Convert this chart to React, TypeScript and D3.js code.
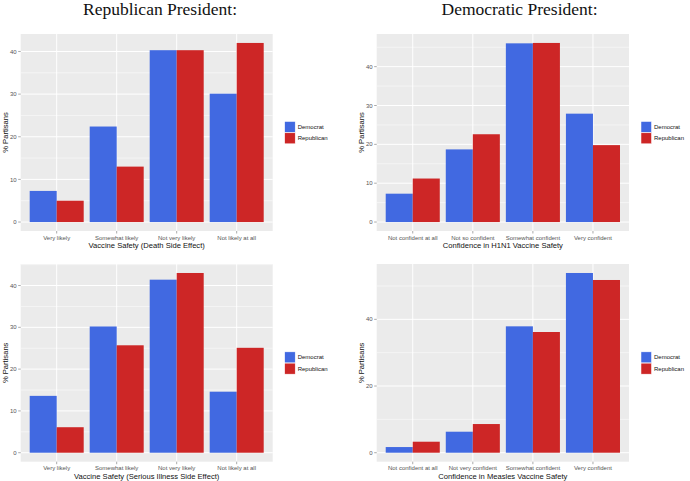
import React from "react";
import * as d3 from "d3";

const parties = ["Democrat", "Republican"];
const partyColors = ["#4169E1", "#CD2626"];

const deathCats = ["Very likely", "Somewhat likely", "Not very likely", "Not likely at all"];
const deathDem = [7.3, 22.4, 40.3, 30.1];
const deathRep = [5.0, 13.0, 40.3, 42.0];

const h1n1Cats = ["Not confident at all", "Not so confident", "Somewhat confident", "Very confident"];
const h1n1Dem = [7.3, 18.7, 46.0, 27.9];
const h1n1Rep = [11.2, 22.6, 46.1, 19.8];

const illnessCats = ["Very likely", "Somewhat likely", "Not very likely", "Not likely at all"];
const illnessDem = [13.6, 30.2, 41.4, 14.6];
const illnessRep = [6.1, 25.7, 43.0, 25.1];

const measlesCats = ["Not confident at all", "Not very confident", "Somewhat confident", "Very confident"];
const measlesDem = [1.7, 6.3, 37.9, 53.9];
const measlesRep = [3.3, 8.6, 36.2, 51.8];

const titles = ["Republican President:", "Democratic President:"];
const yTitle = "% Partisans";

type PanelProps = {
  x0: number; x1: number; y0: number; y1: number;
  cats: string[]; dem: number[]; rep: number[];
  xTitle: string; step: number;
};

function Panel({ x0, x1, y0, y1, cats, dem, rep, xTitle, step }: PanelProps) {
  const max = d3.max([...dem, ...rep]) as number;
  const y = d3.scaleLinear().domain([-0.05 * max, 1.05 * max]).range([y1, y0]);
  const x = d3.scaleLinear().domain([0.4, cats.length + 0.6]).range([x0, x1]);
  const major = d3.range(0, 1.05 * max + 1e-9, step);
  const minor = d3.range(step / 2, 1.05 * max, step);
  const bw = x(1.45) - x(1);
  const series = [dem, rep];
  const lx = x1 + 12;
  const ly = (y0 + y1) / 2 - 11;
  return (
    <g>
      <rect x={x0} y={y0} width={x1 - x0} height={y1 - y0} fill="#EBEBEB" />
      {minor.map((v) => (
        <line key={"mi" + v} x1={x0} x2={x1} y1={y(v)} y2={y(v)} stroke="#fff" strokeWidth={0.5} />
      ))}
      {major.map((v) => (
        <line key={"ma" + v} x1={x0} x2={x1} y1={y(v)} y2={y(v)} stroke="#fff" strokeWidth={1} />
      ))}
      {cats.map((c, i) => (
        <line key={"vx" + i} x1={x(i + 1)} x2={x(i + 1)} y1={y0} y2={y1} stroke="#fff" strokeWidth={1} />
      ))}
      {series.map((s, si) =>
        s.map((v, i) => (
          <rect
            key={si + "-" + i}
            x={x(i + 1) - bw + si * bw}
            y={y(v)}
            width={bw}
            height={y(0) - y(v)}
            fill={partyColors[si]}
          />
        ))
      )}
      {major.map((v) => (
        <g key={"yt" + v}>
          <line x1={x0 - 2.5} x2={x0} y1={y(v)} y2={y(v)} stroke="#555" strokeWidth={0.5} />
          <text x={x0 - 4} y={y(v)} dy="0.35em" textAnchor="end" fontSize={6} fill="#555">{v}</text>
        </g>
      ))}
      {cats.map((c, i) => (
        <g key={"xt" + i}>
          <line x1={x(i + 1)} x2={x(i + 1)} y1={y1} y2={y1 + 2.5} stroke="#555" strokeWidth={0.5} />
          <text x={x(i + 1)} y={y1 + 8.5} textAnchor="middle" fontSize={6} fill="#555">{c}</text>
        </g>
      ))}
      <text x={(x0 + x1) / 2} y={y1 + 17} textAnchor="middle" fontSize={7.6} fill="#111">{xTitle}</text>
      <text
        transform={`translate(${x0 - 13},${(y0 + y1) / 2}) rotate(-90)`}
        textAnchor="middle"
        fontSize={7.6}
        fill="#111"
      >
        {yTitle}
      </text>
      {parties.map((p, i) => (
        <g key={p}>
          <rect x={lx} y={ly + i * 11.3} width={10.5} height={11} fill={partyColors[i]} stroke="#fff" strokeWidth={0.5} />
          <text x={lx + 13} y={ly + i * 11.3 + 5.5} dy="0.35em" fontSize={6} fill="#111">{p}</text>
        </g>
      ))}
    </g>
  );
}

export default function App() {
  return (
    <svg width={690} height={481} style={{ position: "absolute", left: 0, top: 0, background: "#fff" }}
      fontFamily="'Liberation Sans', Arial, sans-serif">
      <rect x={0} y={0} width={690} height={481} fill="#fff" />
      <text x={160} y={15} textAnchor="middle" fontSize={17.5} fontFamily="'Liberation Serif', 'Times New Roman', serif" fill="#111">{titles[0]}</text>
      <text x={519.5} y={15} textAnchor="middle" fontSize={17.5} fontFamily="'Liberation Serif', 'Times New Roman', serif" fill="#111">{titles[1]}</text>
      <Panel x0={20.7} x1={272.7} y0={34} y1={231} cats={deathCats} dem={deathDem} rep={deathRep}
        xTitle="Vaccine Safety (Death Side Effect)" step={10} />
      <Panel x0={376.7} x1={629} y0={34} y1={231} cats={h1n1Cats} dem={h1n1Dem} rep={h1n1Rep}
        xTitle="Confidence in H1N1 Vaccine Safety" step={10} />
      <Panel x0={20.7} x1={272.7} y0={264} y1={461.7} cats={illnessCats} dem={illnessDem} rep={illnessRep}
        xTitle="Vaccine Safety (Serious Illness Side Effect)" step={10} />
      <Panel x0={376.7} x1={629} y0={264} y1={461.7} cats={measlesCats} dem={measlesDem} rep={measlesRep}
        xTitle="Confidence in Measles Vaccine Safety" step={20} />
    </svg>
  );
}
